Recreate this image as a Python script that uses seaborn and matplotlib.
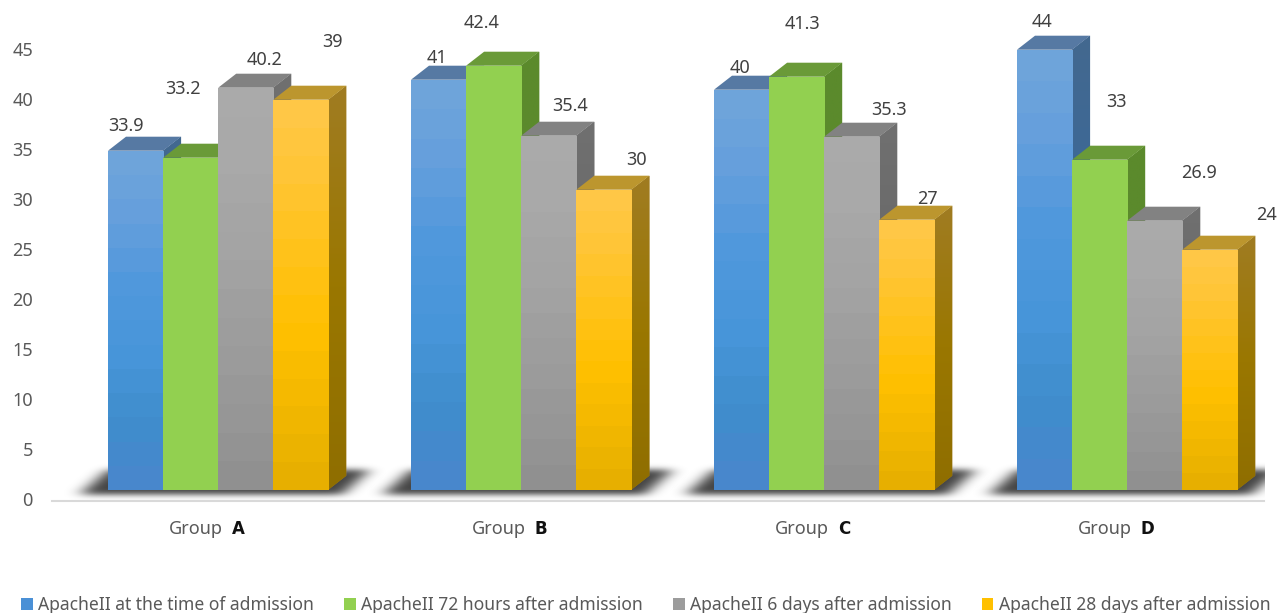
import numpy as np
import pandas as pd
import matplotlib
matplotlib.use("Agg")
import matplotlib.pyplot as plt
import seaborn as sns
from matplotlib.colors import LinearSegmentedColormap
from matplotlib.patches import Polygon
from matplotlib.transforms import ScaledTranslation, blended_transform_factory

groups = ["A", "B", "C", "D"]
series_names = [
    "ApacheII at the time of admission",
    "ApacheII 72 hours after admission",
    "ApacheII 6 days after admission",
    "ApacheII 28 days after admission",
]
at_admission = [33.9, 41, 40, 44]
after_72_hours = [33.2, 42.4, 41.3, 33]
after_6_days = [40.2, 35.4, 35.3, 26.9]
after_28_days = [39, 30, 27, 24]
value_columns = [at_admission, after_72_hours, after_6_days, after_28_days]

# label offsets from the middle of each bar's top edge, in pixels (one row per series)
label_offsets = [
    [(-10, 25), (-1.5, 22), (-1.5, 22), (-2.5, 28)],
    [(-8, 69), (-12, 43), (6, 53), (17, 58)],
    [(18.5, 28), (21.5, 30), (37.5, 27), (44.5, 48)],
    [(31.5, 58), (32.5, 30), (20.5, 21), (56.5, 35)],
]

legend_colors = ["#4A90D6", "#92D050", "#9C9C9C", "#FFC000"]
front_stops = [
    ["#70A6DA", "#659FDD", "#5098DC", "#4896DA", "#3F8DCC", "#4A86CC"],
    ["#92D050", "#92D050", "#92D050", "#92D050", "#92D050", "#92D050"],
    ["#ABABAB", "#A9A9A9", "#A4A4A4", "#9E9E9E", "#979797", "#8F8F8F"],
    ["#FFC84A", "#FFC535", "#FFC219", "#FFC000", "#F2B800", "#E5AE00"],
]
side_stops = [
    ["#43688F", "#2F6CA8"],
    ["#5B8A2C", "#5B8A2C"],
    ["#707070", "#5E5E5E"],
    ["#A07C22", "#9A7700", "#8F6E00"],
]
top_colors = ["#5679A3", "#6A9A38", "#828282", "#BC962E"]

W, H, DPI = 1281, 613, 100
PX_X = 1 / 303        # one pixel in category units
PX_Y = 0.1            # one pixel in value units
FLOOR = 1.08          # bars stand on a floor raised above the axis line
DEPTH_X = 18 * PX_X
DEPTH_Y = 14 * PX_Y
BAR_WIDTH = 220.4 * PX_X
SHIFT = 14.7 * PX_X   # bars sit right of the category centre to leave room for depth
BANDS = 14

sns.set_theme(style="white")
plt.rcParams["font.family"] = ["Noto Sans", "DejaVu Sans"]

frame = pd.DataFrame(
    [
        {"group": g, "series": name, "value": col[i]}
        for name, col in zip(series_names, value_columns)
        for i, g in enumerate(groups)
    ]
)

fig = plt.figure(figsize=(W / DPI, H / DPI), dpi=DPI)
ax = fig.add_axes([52 / W, (H - 500.5) / H, 1212 / W, 500 / H])

sns.barplot(
    data=frame, x="group", y="value", hue="series", order=groups,
    hue_order=series_names, palette=legend_colors, saturation=1,
    width=BAR_WIDTH, gap=0, linewidth=0, ax=ax,
)


def vertical_gradient(stops, bands):
    cmap = LinearSegmentedColormap.from_list("face", stops)
    levels = (np.arange(bands) + 0.5) / bands
    return cmap(levels)[:, None, :]


def gaussian(sigma):
    radius = np.arange(-int(3 * sigma), int(3 * sigma) + 1)
    kernel = np.exp(-radius**2 / (2 * sigma**2))
    return kernel / kernel.sum()


def soft_shadow(left_x):
    """Blurred parallelogram lying on the floor behind one cluster of bars."""
    u = np.arange(-80, 330)
    v = np.arange(-35, 55)
    uu, vv = np.meshgrid(u, v)
    edge = -28 + (vv + 5) * (28 / 25)
    mask = ((vv >= -5) & (vv <= 19) & (uu >= edge) & (uu <= edge + 262)).astype(float)
    mask = np.apply_along_axis(lambda r: np.convolve(r, gaussian(8.0), "same"), 1, mask)
    mask = np.apply_along_axis(lambda r: np.convolve(r, gaussian(3.0), "same"), 0, mask)
    rgba = np.zeros(mask.shape + (4,))
    rgba[..., 3] = mask * 0.74
    ax.imshow(
        rgba[::-1], aspect="auto", origin="upper", zorder=1, interpolation="bilinear",
        extent=(left_x + u[0] * PX_X, left_x + u[-1] * PX_X,
                FLOOR + v[0] * PX_Y, FLOOR + v[-1] * PX_Y),
    )


for s, container in enumerate(ax.containers):
    for g, bar in enumerate(container):
        value = value_columns[s][g]
        x0 = bar.get_x() + SHIFT
        x1 = x0 + bar.get_width()
        bar.set_x(x0)
        bar.set_y(FLOOR)
        bar.set_height(value)
        top = FLOOR + value
        z = 3 + s

        bar.set_zorder(z)
        bar.set_edgecolor("none")
        front = ax.imshow(
            vertical_gradient(front_stops[s], BANDS), aspect="auto", origin="upper",
            extent=(x0, x1, FLOOR, top), zorder=z + 0.02, interpolation="nearest",
        )
        front.set_clip_path(bar)

        side = Polygon(
            [(x1, FLOOR), (x1 + DEPTH_X, FLOOR + DEPTH_Y),
             (x1 + DEPTH_X, top + DEPTH_Y), (x1, top)],
            closed=True, facecolor=side_stops[s][0], edgecolor="none", zorder=z - 0.02,
        )
        ax.add_patch(side)
        side_img = ax.imshow(
            vertical_gradient(side_stops[s], 40), aspect="auto", origin="upper",
            extent=(x1, x1 + DEPTH_X, FLOOR, top + DEPTH_Y), zorder=z - 0.01,
            interpolation="bilinear",
        )
        side_img.set_clip_path(side)

        ax.add_patch(Polygon(
            [(x0, top), (x1, top), (x1 + DEPTH_X, top + DEPTH_Y),
             (x0 + DEPTH_X, top + DEPTH_Y)],
            closed=True, facecolor=top_colors[s], edgecolor="none", zorder=z - 0.005,
        ))

        dx, dy = label_offsets[s][g]
        ax.annotate(
            f"{value:g}", xy=((x0 + x1) / 2, top), xycoords="data",
            xytext=(dx * 72 / DPI, dy * 72 / DPI), textcoords="offset points",
            ha="center", va="center", fontsize=13, color="#404040",
            annotation_clip=False, zorder=20,
        )

for g in range(len(groups)):
    soft_shadow(g - BAR_WIDTH / 2 + SHIFT)

ax.set_xlim(-0.5, 3.5)
ax.set_ylim(0, 50)
ax.set_xlabel("")
ax.set_ylabel("")
ax.set_yticks(np.arange(0, 50, 5))
ax.tick_params(axis="y", length=0, pad=13.7, labelsize=13, labelcolor="#595959")
nudge_up = ScaledTranslation(0, 1 / DPI, fig.dpi_scale_trans)
for tick_label in ax.get_yticklabels():
    tick_label.set_transform(tick_label.get_transform() + nudge_up)
ax.set_xticks(range(len(groups)))
ax.set_xticklabels([])
ax.tick_params(axis="x", length=0)
ax.grid(False)
sns.despine(ax=ax, left=True)
ax.spines["bottom"].set_color("#D9D9D9")
ax.spines["bottom"].set_linewidth(1.5)

# category labels: plain word followed by a bold letter
under_axis = blended_transform_factory(ax.transData, ax.transAxes)
for g, letter in enumerate(groups):
    ax.annotate("Group", xy=(g, 0), xycoords=under_axis,
                xytext=(-8 * 0.72, -33 * 0.72), textcoords="offset points",
                ha="center", va="baseline", fontsize=13, color="#595959",
                annotation_clip=False)
    ax.annotate(letter, xy=(g, 0), xycoords=under_axis,
                xytext=(34.5 * 0.72, -33 * 0.72), textcoords="offset points",
                ha="center", va="baseline", fontsize=12, color="#111111",
                fontweight="bold", family="DejaVu Sans", annotation_clip=False)

sns.move_legend(
    ax, loc="lower left", bbox_to_anchor=(21 / W, -1.5 / H), bbox_transform=fig.transFigure,
    ncol=4, frameon=False, title=None, fontsize=12.6, labelcolor="#595959",
    handlelength=0.68, handleheight=0.68, handletextpad=0.3, columnspacing=1.71,
    borderaxespad=0, borderpad=0,
)

fig.savefig("out.png", dpi=DPI, facecolor="white")
